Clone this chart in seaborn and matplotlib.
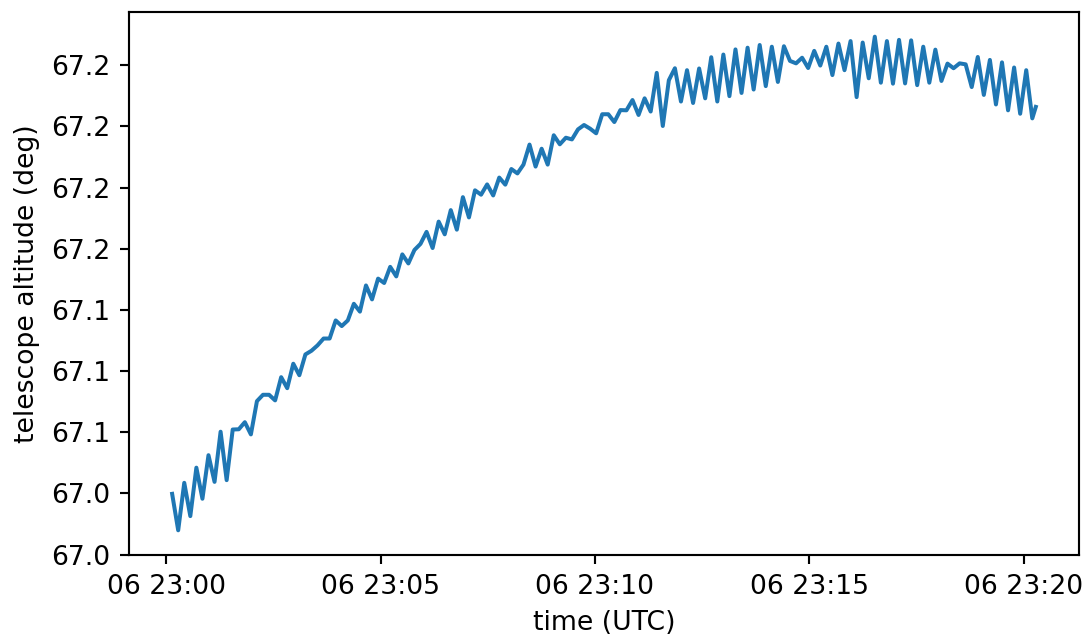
import numpy as np
import pandas as pd
import seaborn as sns
import matplotlib
matplotlib.use("Agg")
import matplotlib.pyplot as plt
import matplotlib.dates as mdates

# telescope altitude samples (deg)
altitude = [
    67.0498, 67.0349, 67.0543, 67.0407, 67.0605, 67.0478, 67.0656, 67.0547,
    67.0752, 67.0554, 67.0761, 67.0762, 67.0791, 67.0741, 67.0877, 67.0903,
    67.0903, 67.0880, 67.0975, 67.0930, 67.1030, 67.0983, 67.1068, 67.1083,
    67.1105, 67.1133, 67.1133, 67.1207, 67.1184, 67.1207, 67.1275, 67.1243,
    67.1350, 67.1293, 67.1378, 67.1360, 67.1426, 67.1387, 67.1477, 67.1440,
    67.1495, 67.1520, 67.1569, 67.1503, 67.1611, 67.1559, 67.1658, 67.1578,
    67.1711, 67.1628, 67.1739, 67.1721, 67.1763, 67.1718, 67.1791, 67.1762,
    67.1826, 67.1808, 67.1844, 67.1926, 67.1836, 67.1909, 67.1844, 67.1964,
    67.1927, 67.1954, 67.1947, 67.1988, 67.2006, 67.1991, 67.1972, 67.2050,
    67.2050, 67.2018, 67.2067, 67.2066, 67.2108, 67.2047, 67.2115, 67.2061,
    67.2219, 67.2002, 67.2189, 67.2238, 67.2102, 67.2230, 67.2096, 67.2237,
    67.2115, 67.2283, 67.2102, 67.2294, 67.2124, 67.2315, 67.2137, 67.2322,
    67.2151, 67.2333, 67.2165, 67.2326, 67.2182, 67.2328, 67.2268, 67.2258,
    67.2281, 67.2239, 67.2309, 67.2249, 67.2326, 67.2210, 67.2339, 67.2230,
    67.2349, 67.2120, 67.2343, 67.2197, 67.2367, 67.2179, 67.2349, 67.2175,
    67.2354, 67.2176, 67.2352, 67.2169, 67.2326, 67.2179, 67.2314, 67.2186,
    67.2257, 67.2238, 67.2258, 67.2254, 67.2161, 67.2284, 67.2129, 67.2272,
    67.2090, 67.2262, 67.2066, 67.2241, 67.2052, 67.2230, 67.2033, 67.2080,
]

# sample times: regular cadence, last sample a little early
first_sample = "2023-01-06 23:00:08.1"
cadence_ms = 8480
last_sample = "2023-01-06 23:20:17.2"

ytick_vals = [67.025, 67.05, 67.075, 67.1, 67.125, 67.15, 67.175, 67.2, 67.225]
ytick_labels = ["67.0", "67.0", "67.1", "67.1", "67.1", "67.2", "67.2", "67.2", "67.2"]

times = pd.date_range(first_sample, periods=len(altitude) - 1, freq=f"{cadence_ms}ms")
times = times.append(pd.DatetimeIndex([last_sample]))
df = pd.DataFrame({"time": times, "alt": altitude})

DPI = 192
fig, ax = plt.subplots(figsize=(1091 / DPI, 639 / DPI), dpi=DPI)
fig.subplots_adjust(left=0.1182, right=0.989, top=0.9812, bottom=0.1315)

sns.lineplot(data=df, x="time", y="alt", ax=ax, color="#1f77b4", linewidth=1.5)

ax.xaxis.set_major_locator(mdates.MinuteLocator(byminute=[0, 5, 10, 15, 20]))
ax.xaxis.set_major_formatter(mdates.DateFormatter("%d %H:%M"))
ax.set_yticks(ytick_vals, ytick_labels)
ax.margins(x=0.05, y=0.05)

ax.set_xlabel("time (UTC)")
ax.set_ylabel("telescope altitude (deg)")

fig.savefig("out.png", dpi=DPI)
